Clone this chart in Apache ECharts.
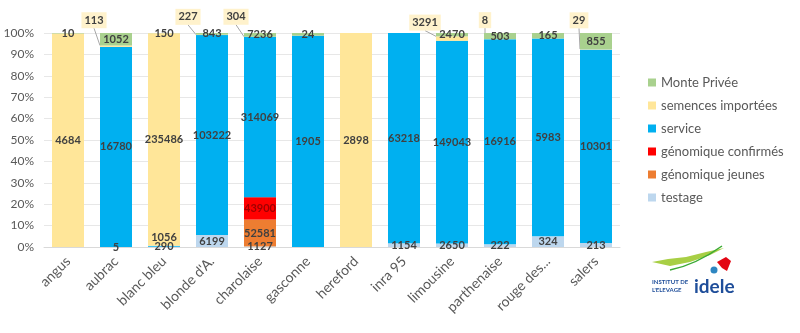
<!DOCTYPE html>
<html><head><meta charset="utf-8">
<script src="https://cdn.jsdelivr.net/npm/echarts@6/dist/echarts.min.js"></script>
<style>html,body{margin:0;padding:0;background:#fff}#c{width:800px;height:333px}</style>
</head><body><div id="c"></div>
<script>
var categories = ['angus','aubrac','blanc bleu',"blonde d'A.",'charolaise','gasconne','hereford','inra 95','limousine','parthenaise','rouge des...','salers'];
var testage            = [null, 5, 290, 6199, 1127, null, null, 1154, 2650, 222, 324, 213];
var genomiqueJeunes    = [null, null, null, null, 52581, null, null, null, null, null, null, null];
var genomiqueConfirmes = [null, null, null, null, 43900, null, null, null, null, null, null, null];
var service            = [null, 16780, 1056, 103222, 314069, 1905, null, 63218, 149043, 16916, 5983, 10301];
var semencesImportees  = [4684, 113, 235486, 227, 304, null, 2898, null, 3291, 8, null, 29];
var montePrivee        = [10, 1052, 150, 843, 7236, 24, null, null, 2470, 503, 165, 855];
var yTicks = ['0%','10%','20%','30%','40%','50%','60%','70%','80%','90%','100%'];

// label displacement (style only)
var semencesCallouts = {1:[-22,-26], 3:[-24,-18], 4:[-24,-20], 8:[-27,-16], 9:[-15,-19], 11:[-17,-29]};
var serviceShift = {2:[0,-9]};

var seriesDefs = [
  {name:'testage', data:testage, color:'#BDD7EE', label:'#404040'},
  {name:'génomique jeunes', data:genomiqueJeunes, color:'#ED7D31', label:'#404040'},
  {name:'génomique confirmés', data:genomiqueConfirmes, color:'#FF0000', label:'#A00000'},
  {name:'service', data:service, color:'#00B0F0', label:'#404040', shift:serviceShift},
  {name:'semences importées', data:semencesImportees, color:'#FFE699', label:'#404040', callouts:semencesCallouts},
  {name:'Monte Privée', data:montePrivee, color:'#A9D18E', label:'#404040'}
];

var totals = categories.map(function(c,i){
  var t=0; seriesDefs.forEach(function(s){ t += (s.data[i]||0); }); return t;
});

var FONT = 'Lato, "Open Sans", sans-serif';

var series = seriesDefs.map(function(s){
  var off = s.callouts || s.shift || {};
  return {
    name:s.name, type:'bar', stack:'total', barWidth:32,
    itemStyle:{color:s.color},
    data:s.data.map(function(v,i){
      if(v==null) return '-';
      var item = {value: v/totals[i]*100, raw:v, label:{color:s.label}};
      if(s.callouts && s.callouts[i]){
        item.label.backgroundColor = '#FFF2CC';
        item.label.padding = [3,3,2,3];
      }
      return item;
    }),
    label:{show:true, position:'inside', color:s.label, fontFamily:FONT, fontWeight:'bold', fontSize:11,
      formatter:function(p){ return (p.data && p.data.raw!=null) ? String(p.data.raw) : ''; }},
    labelLayout:function(p){ var o = off[p.dataIndex]; return o ? {dx:o[0], dy:o[1]} : {}; },
    labelLine: s.callouts ? {show:true, lineStyle:{color:'#A6A6A6', width:1}} : {show:false}
  };
});
var legendOrder = ['Monte Privée','semences importées','service','génomique confirmés','génomique jeunes','testage'];

var chart = echarts.init(document.getElementById('c'), null, {renderer:'canvas'});
chart.setOption({
  animation:false,
  textStyle:{fontFamily:FONT},
  grid:{left:44, right:180, top:33, bottom:86, outerBoundsMode:'none'},
  legend:{orient:'vertical', left:643, top:71, itemWidth:8, itemHeight:8, itemGap:10, icon:'rect',
    data:legendOrder, textStyle:{color:'#595959', fontSize:13, lineHeight:13, fontFamily:FONT}},
  xAxis:{type:'category', data:categories, axisTick:{show:false},
    axisLine:{show:true, lineStyle:{color:'#D9D9D9'}},
    axisLabel:{rotate:45, color:'#595959', fontSize:14, margin:12, interval:0, fontFamily:FONT}},
  yAxis:{type:'value', min:0, max:100, interval:10,
    axisLabel:{color:'#595959', fontSize:12, margin:10, fontFamily:FONT, formatter:function(v){return yTicks[Math.round(v/10)];}},
    splitLine:{lineStyle:{color:'#E7E7E7'}}, axisLine:{show:false}, axisTick:{show:false}},
  series:series,
  graphic:[
    {type:'polygon', shape:{points:[[652,262],[670,266],[690,262],[710,255],[724,248],[706,252],[686,257],[668,259]]},
      style:{fill:'#A8CF45'}},
    {type:'bezierCurve', shape:{x1:670,y1:270,x2:722,y2:246,cpx1:690,cpy1:266,cpx2:708,cpy2:256},
      style:{stroke:'#3AAA35', lineWidth:1.5, fill:null}},
    {type:'polygon', shape:{points:[[717,262],[726,257],[731,261],[727,271],[722,268]]}, style:{fill:'#E30613'}},
    {type:'circle', shape:{cx:714,cy:270,r:3.5}, style:{fill:'#2E86C1'}},
    {type:'text', left:652, top:279, style:{text:'INSTITUT DE', fill:'#1F4E9A', font:'bold 6px '+FONT}},
    {type:'text', left:652, top:287, style:{text:"L'ELEVAGE", fill:'#1F4E9A', font:'bold 6px '+FONT}},
    {type:'text', left:694, top:277, style:{text:'idele', fill:'#1F4E9A', font:'bold 19px '+FONT}}
  ]
});
</script></body></html>
